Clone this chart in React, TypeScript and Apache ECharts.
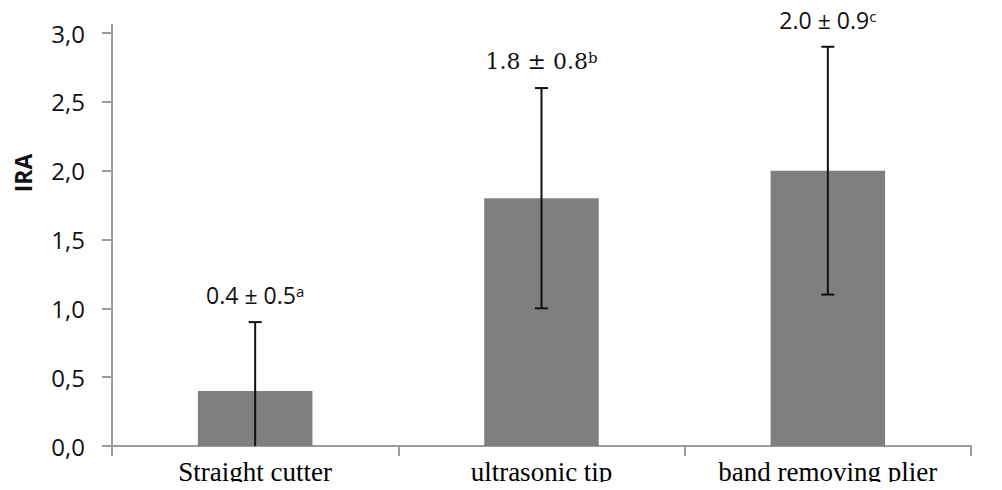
import React, { useEffect, useRef } from "react";
import * as echarts from "echarts";

const categories = ["Straight cutter", "ultrasonic tip", "band removing plier"];
const means = [0.4, 1.8, 2.0];
const sds = [0.5, 0.8, 0.9];
const letters = ["a", "b", "c"];
const labelFonts = ["Open Sans", "DejaVu Serif", "Open Sans"];
const labelSizes = [23, 22, 23];
const yTicks = { min: 0, max: 3, interval: 0.5 };

export default function App() {
  const ref = useRef<HTMLDivElement>(null);
  useEffect(() => {
    if (!ref.current) return;
    const chart = echarts.init(ref.current, null, { renderer: "svg" });
    const axisColor = "#9c9c9c";
    chart.setOption({
      animation: false,
      backgroundColor: "#ffffff",
      grid: { left: 112, right: 31, top: 33, bottom: 44 },
      xAxis: {
        type: "category",
        data: categories,
        axisLine: { lineStyle: { color: axisColor, width: 2 } },
        axisTick: { show: true, length: 10, lineStyle: { color: axisColor, width: 2 } },
        axisLabel: {
          color: "#000",
          fontFamily: "Liberation Serif",
          fontSize: 27,
          margin: 12,
        },
      },
      yAxis: {
        type: "value",
        min: yTicks.min,
        max: yTicks.max,
        interval: yTicks.interval,
        splitLine: { show: false },
        axisLine: { show: true, lineStyle: { color: axisColor, width: 2 } },
        axisTick: { show: true, length: 10, lineStyle: { color: axisColor, width: 2 } },
        axisLabel: {
          color: "#111",
          fontFamily: "Open Sans",
          fontSize: 24,
          margin: 27,
          formatter: (v: number) => v.toFixed(1).replace(".", ","),
        },
      },
      graphic: [
        {
          type: "line",
          shape: { x1: 112, y1: 24, x2: 112, y2: 34 },
          style: { stroke: axisColor, lineWidth: 2 },
        },
        {
          type: "text",
          x: 23,
          y: 173,
          rotation: Math.PI / 2,
          style: {
            text: "IRA",
            font: "bold 23px 'Open Sans'",
            fill: "#111",
            align: "center",
            verticalAlign: "middle",
          },
        },
      ],
      series: [
        {
          type: "bar",
          data: means,
          barWidth: "40%",
          itemStyle: { color: "#7f7f7f" },
        },
        {
          type: "custom",
          z: 10,
          clip: false,
          data: categories.map((_, i) => [i, means[i], sds[i]]),
          renderItem: (params: any, api: any) => {
            const i = api.value(0);
            const mean = api.value(1);
            const sd = api.value(2);
            const loRaw = mean - sd;
            const lo = Math.max(0, loRaw);
            const hi = mean + sd;
            const top = api.coord([i, hi]);
            const bot = api.coord([i, lo]);
            const half = 6.5;
            const stroke = { stroke: "#111", lineWidth: 2 };
            const children: any[] = [
              { type: "line", shape: { x1: top[0], y1: top[1], x2: bot[0], y2: bot[1] }, style: stroke },
              { type: "line", shape: { x1: top[0] - half, y1: top[1], x2: top[0] + half, y2: top[1] }, style: stroke },
            ];
            if (loRaw >= 0) {
              children.push({
                type: "line",
                shape: { x1: bot[0] - half, y1: bot[1], x2: bot[0] + half, y2: bot[1] },
                style: stroke,
              });
            }
            const idx = params.dataIndex;
            const fs = labelSizes[idx];
            children.push({
              type: "text",
              x: top[0],
              y: top[1] - 27,
              style: {
                text: `{m|${mean.toFixed(1)} ± ${sd.toFixed(1)}}{s|${letters[idx]}}`,
                align: "center",
                verticalAlign: "middle",
                rich: {
                  m: { fontFamily: labelFonts[idx], fontSize: fs, lineHeight: fs, fill: "#111", color: "#111" },
                  s: {
                    fontFamily: labelFonts[idx],
                    fontSize: 15,
                    lineHeight: 15,
                    verticalAlign: "top",
                    fill: "#111",
                    color: "#111",
                  },
                },
              },
            });
            return { type: "group", children };
          },
        },
      ],
    });
    return () => chart.dispose();
  }, []);
  return <div ref={ref} style={{ width: 1002, height: 490, margin: -8 }} />;
}
